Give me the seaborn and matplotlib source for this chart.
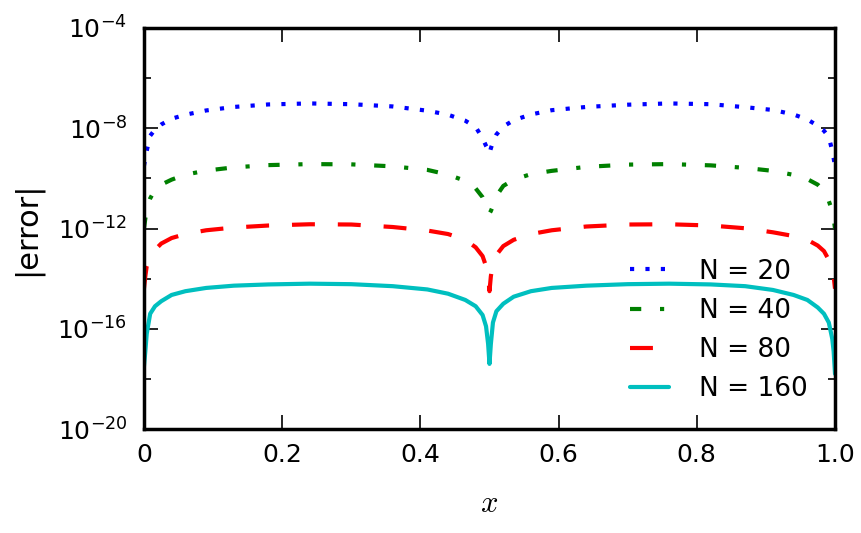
import numpy as np
import pandas as pd
import matplotlib
matplotlib.use("Agg")
import matplotlib.pyplot as plt
import seaborn as sns
from matplotlib.ticker import FixedLocator, LogFormatterMathtext, NullFormatter

# sample points along x, and log10 |error| for each N
x_pts = [0.0, 0.002, 0.004, 0.009, 0.016, 0.025, 0.04, 0.06, 0.09, 0.13, 0.18,
         0.24, 0.30, 0.36, 0.41, 0.44, 0.465, 0.48, 0.49, 0.495, 0.498, 0.5,
         0.502, 0.505, 0.51, 0.52, 0.535, 0.56, 0.59, 0.64, 0.70, 0.76, 0.82,
         0.87, 0.91, 0.94, 0.96, 0.975, 0.984, 0.991, 0.996, 0.998, 1.0]

err20 = [-9.5, -9.2, -8.9, -8.3, -8.05, -7.85, -7.62, -7.46, -7.29, -7.15, -7.05,
         -7.01, -7.04, -7.13, -7.3, -7.46, -7.7, -7.95, -8.4, -8.7, -8.85, -9.0,
         -8.8, -8.55, -8.25, -7.93, -7.68, -7.45, -7.28, -7.15, -7.06, -7.01, -7.04,
         -7.16, -7.27, -7.45, -7.65, -7.9, -8.1, -8.35, -8.9, -9.2, -9.5]
err40 = [-12.0, -11.6, -11.2, -10.8, -10.44, -10.25, -10.05, -9.85, -9.69, -9.56, -9.47,
         -9.43, -9.44, -9.52, -9.66, -9.85, -10.1, -10.4, -10.75, -11.05, -11.25, -11.4,
         -11.3, -11.1, -10.7, -10.3, -10.05, -9.83, -9.70, -9.54, -9.45, -9.43, -9.48,
         -9.58, -9.7, -9.86, -10.03, -10.25, -10.5, -10.9, -11.3, -11.6, -12.0]
err80 = [-14.4, -13.9, -13.5, -13.1, -12.85, -12.6, -12.38, -12.22, -12.07, -11.96, -11.88,
         -11.83, -11.84, -11.94, -12.08, -12.22, -12.45, -12.75, -13.1, -13.5, -13.9, -14.5,
         -13.9, -13.4, -13.05, -12.7, -12.45, -12.22, -12.07, -11.92, -11.84, -11.83, -11.88,
         -11.99, -12.15, -12.3, -12.45, -12.68, -12.9, -13.25, -13.7, -13.9, -14.4]
err160 = [-17.5, -16.9, -16.2, -15.4, -15.1, -14.9, -14.65, -14.5, -14.37, -14.28, -14.23,
          -14.2, -14.22, -14.3, -14.43, -14.6, -14.85, -15.1, -15.45, -15.9, -16.6, -17.4,
          -16.6, -15.75, -15.3, -15.0, -14.72, -14.5, -14.37, -14.28, -14.22, -14.2, -14.23,
          -14.3, -14.45, -14.65, -14.85, -15.15, -15.4, -15.75, -16.4, -16.9, -17.8]

labels = ["N = 20", "N = 40", "N = 80", "N = 160"]
colors = ["#0000ff", "#008000", "#ff0000", "#00bfbf"]
x_ticks = [0, 0.2, 0.4, 0.6, 0.8, 1.0]
x_ticklabels = ["0", "0.2", "0.4", "0.6", "0.8", "1.0"]

frames = []
for lab, e in zip(labels, [err20, err40, err80, err160]):
    frames.append(pd.DataFrame({"x": x_pts, "err": 10.0 ** np.array(e), "N": lab}))
df = pd.concat(frames, ignore_index=True)

sns.set_style("ticks")
plt.rcParams["font.family"] = ["DejaVu Sans"]
plt.rcParams["mathtext.fontset"] = "cm"
plt.rcParams["axes.unicode_minus"] = False
for k in ["text.color", "axes.labelcolor", "xtick.color", "ytick.color"]:
    plt.rcParams[k] = "black"

fig = plt.figure(figsize=(8.62, 5.33), dpi=100)
ax = fig.add_axes([0.167, 0.195, 0.8017, 0.7525])

sns.lineplot(data=df, x="x", y="err", hue="N", style="N",
             hue_order=labels, style_order=labels,
             palette=dict(zip(labels, colors)),
             dashes={"N = 20": (1, 2.7), "N = 40": (2.7, 4.5, 1, 4.5),
                     "N = 80": (5.5, 5.5), "N = 160": ""},
             linewidth=3, estimator=None, sort=False, ax=ax)

ax.set_yscale("log")
ax.set_xlim(0, 1)
ax.set_ylim(1e-20, 1e-4)

ax.xaxis.set_major_locator(FixedLocator(x_ticks))
ax.set_xticklabels(x_ticklabels)
ax.yaxis.set_major_locator(FixedLocator([1e-20, 1e-16, 1e-12, 1e-8, 1e-4]))
ax.yaxis.set_minor_locator(FixedLocator([1e-18, 1e-14, 1e-10, 1e-6]))
ax.yaxis.set_major_formatter(LogFormatterMathtext())
ax.yaxis.set_minor_formatter(NullFormatter())

ax.tick_params(which="both", direction="in", top=True, right=True,
               width=1.2, color="black")
ax.tick_params(which="major", length=10, labelsize=18)
ax.tick_params(axis="x", which="major", pad=10)
ax.tick_params(axis="y", which="major", pad=12)
ax.tick_params(which="minor", length=5)
for s in ax.spines.values():
    s.set_linewidth(2.5)
    s.set_color("black")

ax.set_xlabel("$x$", fontsize=22)
ax.xaxis.set_label_coords(0.5, -0.15)
ax.set_ylabel("|error|", fontsize=22)
ax.yaxis.set_label_coords(-0.148, 0.5)

handles, labs = ax.get_legend_handles_labels()
ax.legend(handles, labs, loc="upper left", bbox_to_anchor=(0.703, 0.425),
          frameon=False, fontsize=19, handlelength=1.5, handletextpad=1.14,
          labelspacing=0.5, borderpad=0, borderaxespad=0)

fig.savefig("out.png", dpi=100)
